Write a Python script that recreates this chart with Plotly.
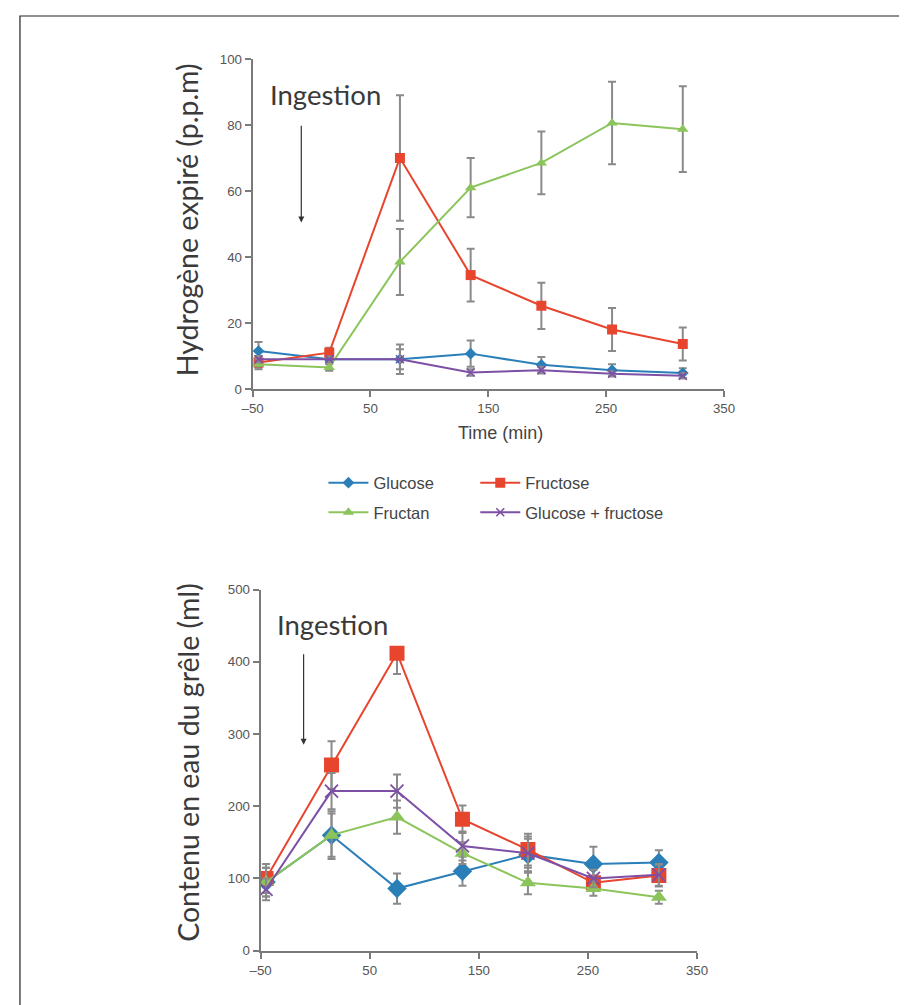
import plotly.graph_objects as go

W, H = 907, 1005

time_min = [-45, 15, 75, 135, 195, 255, 315]
x_ticks = [-50, 50, 150, 250, 350]
x_ticktext = ["–50", "50", "150", "250", "350"]

series_names = ["Glucose", "Fructose", "Fructan", "Glucose + fructose"]

# Top chart: expired hydrogen (p.p.m)
h2_glucose = [11.5, 9, 9, 10.7, 7.3, 5.7, 4.8]
h2_glucose_err = [2.7, 1, 4.5, 4, 2.4, 1.8, 1.5]
h2_fructose = [8, 11, 70, 34.5, 25.2, 18, 13.6]
h2_fructose_err = [1.5, 1.5, 19, 8, 7, 6.5, 5]
h2_fructan = [7.5, 6.5, 38.5, 61, 68.5, 80.6, 78.7]
h2_fructan_err = [1.5, 1, 10, 9, 9.5, 12.5, 13]
h2_glufru = [9, 9, 9, 5, 5.7, 4.6, 4]
h2_glufru_err = [1, 0.8, 3, 1, 1, 0.8, 0.8]

# Bottom chart: small-bowel water content (ml)
w_glucose = [95, 160, 86, 110, 133, 120, 122]
w_glucose_err = [20, 30, 21, 20, 25, 24, 17]
w_fructose = [100, 257, 412, 182, 140, 94, 104]
w_fructose_err_up = [20, 33, 0, 19, 22, 10, 15]
w_fructose_err_dn = [20, 33, 29, 19, 22, 10, 15]
w_fructan = [95, 160, 185, 135, 94, 86, 74]
w_fructan_err = [20, 33, 23, 15, 16, 10, 9]
w_glufru = [85, 221, 221, 145, 135, 100, 105]
w_glufru_err = [15, 25, 23, 20, 20, 12, 15]

colors = ["#2b7fb8", "#e8452f", "#8cc45c", "#7d50a5"]
ERR_COLOR = "#8a8a8a"
AX_COLOR = "#7a7a7a"
TXT = "#3a3a3a"

# observed page placement: page = 0.977*(fig + 18.5) horizontally, 0.982*(fig + 15.5) vertically
SX, OX = 0.977, 18.5
SY, OY = 0.982, 15.5

def px_x(p):
    return (p / SX - OX) / W

def px_y(p):
    return 1 - (p / SY - OY) / H

fig = go.Figure()

def err(arr, arr_minus=None):
    d = dict(type="data", array=arr, color=ERR_COLOR, thickness=2, width=4, visible=True)
    if arr_minus is not None:
        d["symmetric"] = False
        d["arrayminus"] = arr_minus
    return d

top_sym = [
    dict(symbol="diamond", size=9),
    dict(symbol="square", size=10),
    dict(symbol="triangle-up", size=10),
    dict(symbol="x-thin-open", size=8),
]
bot_sym = [
    dict(symbol="diamond", size=15),
    dict(symbol="square", size=15),
    dict(symbol="triangle-up", size=14),
    dict(symbol="x-thin-open", size=13),
]

top_data = [
    (h2_glucose, err(h2_glucose_err)),
    (h2_fructose, err(h2_fructose_err)),
    (h2_fructan, err(h2_fructan_err)),
    (h2_glufru, err(h2_glufru_err)),
]
bot_data = [
    (w_glucose, err(w_glucose_err)),
    (w_fructose, err(w_fructose_err_up, w_fructose_err_dn)),
    (w_fructan, err(w_fructan_err)),
    (w_glufru, err(w_glufru_err)),
]

legend_ids = ["legend", "legend2", "legend3", "legend4"]

for i, (vals, e) in enumerate(top_data):
    m = dict(top_sym[i], color=colors[i])
    if "open" in m["symbol"]:
        m["line"] = dict(color=colors[i], width=1.5)
    fig.add_trace(go.Scatter(
        x=time_min, y=vals, error_y=e, mode="lines+markers",
        name=series_names[i], line=dict(color=colors[i], width=2),
        marker=m, xaxis="x", yaxis="y", legend=legend_ids[i], showlegend=True,
    ))

for i, (vals, e) in enumerate(bot_data):
    m = dict(bot_sym[i], color=colors[i])
    if "open" in m["symbol"]:
        m["line"] = dict(color=colors[i], width=1.8)
    fig.add_trace(go.Scatter(
        x=time_min, y=vals, error_y=e, mode="lines+markers",
        name=series_names[i], line=dict(color=colors[i], width=2),
        marker=m, xaxis="x2", yaxis="y2", showlegend=False,
    ))

axis_common = dict(
    showgrid=False, zeroline=False, showline=True, linecolor=AX_COLOR, linewidth=2,
    ticks="outside", tickcolor=AX_COLOR, tickwidth=2, ticklen=6,
    tickfont=dict(family="Liberation Sans", size=13.3, color="#555"),
)

legend_common = dict(orientation="h", xanchor="left", yanchor="middle", itemwidth=40,
                     font=dict(family="Liberation Sans", size=16.5, color="#444"))

LEG_X1 = 312 / W
LEG_X2 = 467.6 / W
LEG_Y1 = 1 - 475 / H
LEG_Y2 = 1 - 505 / H

fig.update_layout(
    width=W, height=H, margin=dict(l=0, r=0, t=0, b=0),
    paper_bgcolor="white", plot_bgcolor="white",
    xaxis=dict(axis_common, domain=[px_x(252), px_x(724)], range=[-50, 350],
               tickvals=x_ticks, ticktext=x_ticktext, anchor="y"),
    yaxis=dict(axis_common, domain=[px_y(388), px_y(59)], range=[0, 100],
               tickvals=[0, 20, 40, 60, 80, 100], anchor="x"),
    xaxis2=dict(axis_common, domain=[px_x(260), px_x(697)], range=[-50, 350],
                tickvals=x_ticks, ticktext=x_ticktext, anchor="y2"),
    yaxis2=dict(axis_common, domain=[px_y(948), px_y(588)], range=[0, 500],
                tickvals=[0, 100, 200, 300, 400, 500], anchor="x2"),
    legend=dict(legend_common, x=LEG_X1, y=LEG_Y1),
    legend2=dict(legend_common, x=LEG_X2, y=LEG_Y1),
    legend3=dict(legend_common, x=LEG_X1, y=LEG_Y2),
    legend4=dict(legend_common, x=LEG_X2, y=LEG_Y2),
    showlegend=True,
)

ann_font = dict(family="Lato", size=27.5, color=TXT)
fig.add_annotation(x=px_x(187), y=px_y(219), xref="paper", yref="paper",
                   xanchor="center", yanchor="middle",
                   text="Hydrogène expiré (p.p.m)", textangle=-90, showarrow=False,
                   font=dict(family="Lato", size=28.5, color=TXT))
fig.add_annotation(x=px_x(187), y=px_y(760), xref="paper", yref="paper",
                   xanchor="center", yanchor="middle",
                   text="Contenu en eau du grêle (ml)", textangle=-90, showarrow=False,
                   font=dict(family="Lato", size=28.5, color=TXT))
fig.add_annotation(x=px_x(500), y=px_y(432), xref="paper", yref="paper",
                   xanchor="center", yanchor="middle",
                   text="Time (min)", showarrow=False,
                   font=dict(family="Liberation Sans", size=18, color="#444"))

# Ingestion labels + arrows
fig.add_annotation(x=11.8, y=89.1, xref="x", yref="y", text="Ingestion",
                   xanchor="center", yanchor="middle", showarrow=False, font=ann_font)
fig.add_annotation(x=-8.7, y=50.4, ax=-8.7, ay=80.2, xref="x", yref="y", axref="x", ayref="y",
                   text="", showarrow=True, arrowhead=2, arrowsize=1, arrowwidth=1.2,
                   arrowcolor="#333")
fig.add_annotation(x=15.9, y=451, xref="x2", yref="y2", text="Ingestion",
                   xanchor="center", yanchor="middle", showarrow=False, font=ann_font)
fig.add_annotation(x=-10.6, y=285, ax=-10.6, ay=412.5, xref="x2", yref="y2", axref="x2", ayref="y2",
                   text="", showarrow=True, arrowhead=2, arrowsize=1, arrowwidth=1.2,
                   arrowcolor="#333")

# outer frame
fig.add_shape(type="rect", xref="paper", yref="paper",
              x0=1 / W, x1=px_x(901), y0=-0.02, y1=1 - 1 / H,
              line=dict(color="#222", width=1.2), fillcolor="rgba(0,0,0,0)", layer="below")

fig.write_html("out.html")
